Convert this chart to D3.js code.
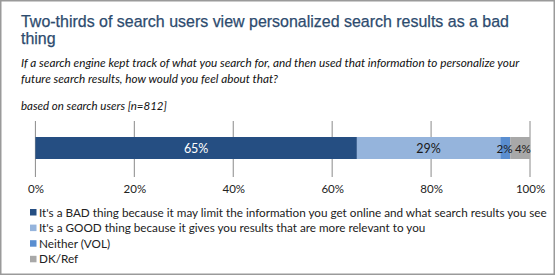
<!DOCTYPE html>
<html>
<head>
<meta charset="utf-8">
<script src="https://cdn.jsdelivr.net/npm/d3@7"></script>
<style>
  body { margin: 0; background: #fff; }
  svg { display: block; }
  .title { font-family: "Liberation Sans", Arial, sans-serif; font-size: 16.8px; fill: #2D4B6E; stroke: #2D4B6E; stroke-width: 0.25px; }
  .sub { font-family: Lato, "Open Sans", sans-serif; font-style: italic; font-size: 12px; fill: #111; }
  .lbl { font-family: Lato, "Open Sans", sans-serif; font-size: 12px; fill: #222; }
  .leg { font-family: Lato, "Open Sans", sans-serif; font-size: 12px; fill: #222; }
</style>
</head>
<body>
<div id="chart"></div>
<script>
// data
const categories = [
  "It's a BAD thing because it may limit the information you get online and what search results you see",
  "It's a GOOD thing because it gives you results that are more relevant to you",
  "Neither (VOL)",
  "DK/Ref"
];
const values = [65, 29, 2, 4];
const colors = ["#254E82", "#95B4DC", "#5A8ED0", "#A8A8A8"];
const labelColors = ["#fff", "#1a1a1a", "#1a1a1a", "#1a1a1a"];
const ticks = [0, 20, 40, 60, 80, 100];
const titleLines = ["Two-thirds of search users view personalized search results as a bad", "thing"];
const subLines = ["If a search engine kept track of what you search for, and then used that information to personalize your",
                  "future search results, how would you feel about that?"];
const note = "based on search users [n=812]";

var width = 555, height = 275;
var svg = d3.select('#chart').append('svg')
  .attr('width', width).attr('height', height);

// scale font size of a selection so its first text is about targetW wide
function fit(sel, targetW) {
  var node = sel.node();
  var fs = parseFloat(getComputedStyle(node).fontSize);
  var w = node.getComputedTextLength();
  sel.style('font-size', (fs * targetW / w).toFixed(2) + 'px');
}

// frame
svg.append('rect')
  .attr('x', 0.75).attr('y', 0.75)
  .attr('width', width - 1.5).attr('height', height - 1.5)
  .attr('fill', '#fff').attr('stroke', '#9a9a9a').attr('stroke-width', 1.5);

var title = svg.selectAll('.title').data(titleLines).enter().append('text')
  .attr('class', 'title')
  .attr('x', 21).attr('y', (d, i) => 26.5 + i * 17)
  .text(d => d);
// the original face is a little narrower than Arial: squeeze line 1 to its width
var tw = title.node().getComputedTextLength();
var squeeze = 488 / tw;
title.attr('textLength', function () { return this.getComputedTextLength() * squeeze; })
  .attr('lengthAdjust', 'spacingAndGlyphs');

var sub = svg.selectAll('.sub').data(subLines).enter().append('text')
  .attr('class', 'sub')
  .attr('x', 21).attr('y', (d, i) => 67 + i * 16)
  .text(d => d);
fit(sub, 498);

var nt = svg.append('text').attr('class', 'sub')
  .attr('x', 21).attr('y', 110).text(note);
fit(nt, 146);

var x = d3.scaleLinear().domain([0, 100]).range([35.4, 530]);

// gridlines
svg.append('g').selectAll('line').data(ticks).enter().append('line')
  .attr('x1', d => x(d)).attr('x2', d => x(d))
  .attr('y1', 121).attr('y2', 177)
  .attr('stroke', '#8a8a8a').attr('stroke-width', 1);

// stacked bar
var stack = [];
var acc = 0;
values.forEach(function (v, i) {
  stack.push({ start: acc, end: acc + v, value: v, i: i });
  acc += v;
});

var barY = 137, barH = 22;
svg.append('g').selectAll('rect').data(stack).enter().append('rect')
  .attr('x', d => x(d.start))
  .attr('width', d => x(d.end) - x(d.start))
  .attr('y', barY).attr('height', barH)
  .attr('fill', d => colors[d.i]);

// the two small segments' labels are nudged apart, as in the original
var nudge = [0, 0, -0.8, 2.8];
svg.append('g').selectAll('text').data(stack).enter().append('text')
  .attr('class', 'lbl')
  .attr('x', d => x((d.start + d.end) / 2) + nudge[d.i])
  .attr('y', barY + barH / 2 + 4.5)
  .attr('text-anchor', 'middle')
  .style('font-size', d => d.value < 5 ? '11.6px' : '12.5px')
  .style('fill', d => labelColors[d.i])
  .text(d => d.value + '%');

// axis labels
var axis = d3.axisBottom(x).tickValues(ticks).tickSize(0).tickFormat(d => d + '%');
var ax = svg.append('g').attr('transform', 'translate(0,180)').call(axis);
ax.select('.domain').remove();
ax.selectAll('text')
  .attr('class', 'lbl')
  .attr('dy', '0')
  .attr('y', 13)
  .style('font-size', '11.5px');

// legend
var leg = svg.append('g').selectAll('g').data(categories).enter().append('g')
  .attr('transform', (d, i) => 'translate(30,' + (209 + i * 15.6) + ')');
leg.append('rect')
  .attr('width', 6.5).attr('height', 6.5)
  .attr('fill', (d, i) => colors[i]);
var legText = leg.append('text')
  .attr('class', 'leg')
  .attr('x', 9).attr('y', 7.5)
  .text(d => d);
fit(legText, 508);
</script>
</body>
</html>
